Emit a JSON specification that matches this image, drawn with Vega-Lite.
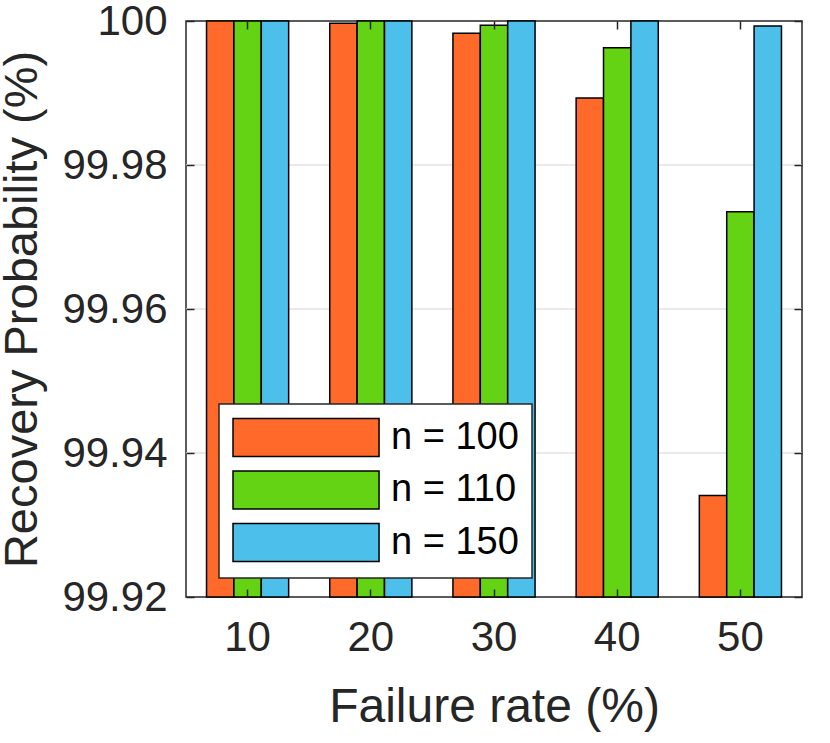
{
  "$schema": "https://vega.github.io/schema/vega-lite/v6.json",
  "width": 616,
  "height": 576,
  "autosize": "none",
  "padding": {"left": 186, "top": 21, "right": 28, "bottom": 146},
  "background": "white",
  "datasets": {
    "bars": [
      {"rate": 10, "n": "n = 100", "p": 100},
      {"rate": 10, "n": "n = 110", "p": 100},
      {"rate": 10, "n": "n = 150", "p": 100},
      {"rate": 20, "n": "n = 100", "p": 99.9997},
      {"rate": 20, "n": "n = 110", "p": 100},
      {"rate": 20, "n": "n = 150", "p": 100},
      {"rate": 30, "n": "n = 100", "p": 99.9983},
      {"rate": 30, "n": "n = 110", "p": 99.9994},
      {"rate": 30, "n": "n = 150", "p": 100},
      {"rate": 40, "n": "n = 100", "p": 99.9893},
      {"rate": 40, "n": "n = 110", "p": 99.9963},
      {"rate": 40, "n": "n = 150", "p": 100},
      {"rate": 50, "n": "n = 100", "p": 99.9341},
      {"rate": 50, "n": "n = 110", "p": 99.9735},
      {"rate": 50, "n": "n = 150", "p": 99.9993}
    ],
    "grid": [
      {"g": 99.94},
      {"g": 99.96},
      {"g": 99.98}
    ]
  },
  "layer": [
    {
      "data": {"name": "grid"},
      "mark": {"type": "rule", "color": "#e3e3e3", "strokeWidth": 1.5},
      "encoding": {
        "y": {"field": "g", "type": "quantitative", "axis": null,
          "scale": {"domain": [99.92, 100], "zero": false, "clamp": true, "nice": false}}
      }
    },
    {
      "data": {"name": "bars"},
      "mark": {"type": "bar", "stroke": "black", "strokeWidth": 1.5},
      "encoding": {
        "x": {
          "field": "rate", "type": "nominal",
          "scale": {"paddingInner": 0, "paddingOuter": 0},
          "axis": {"orient": "bottom", "title": "Failure rate (%)", "labelAngle": 0,
            "tickSize": -8, "labelPadding": 28, "titlePadding": 25, "titleFontSize": 48,
            "zindex": 1}
        },
        "xOffset": {
          "field": "n", "type": "nominal",
          "scale": {"paddingInner": 0, "paddingOuter": 0.75}
        },
        "y": {
          "field": "p", "type": "quantitative",
          "scale": {"domain": [99.92, 100], "zero": false, "clamp": true, "nice": false},
          "axis": {"orient": "left", "title": "Recovery Probability (%)",
            "values": [99.92, 99.94, 99.96, 99.98, 100],
            "labelExpr": "datum.value == 100 ? '100' : format(datum.value, '.2f')",
            "tickSize": -8, "labelPadding": 27, "titleFontSize": 47,
            "titleX": -140, "titleY": 288, "titleBaseline": "bottom", "titleAngle": -90,
            "titleAlign": "center",
            "zindex": 1}
        },
        "color": {
          "field": "n", "type": "nominal",
          "scale": {"domain": ["n = 100", "n = 110", "n = 150"],
            "range": ["#ff6a2a", "#63d313", "#4cbfeb"]},
          "legend": {"title": null, "orient": "none", "legendX": 33, "legendY": 383}
        }
      }
    },
    {
      "data": {"name": "bars"},
      "mark": {"type": "point", "opacity": 0},
      "encoding": {
        "x": {
          "field": "rate", "type": "nominal",
          "scale": {"paddingInner": 0, "paddingOuter": 0},
          "axis": {"orient": "top", "title": null, "labels": false, "tickSize": -8, "zindex": 1}
        },
        "y": {
          "field": "p", "type": "quantitative",
          "scale": {"domain": [99.92, 100], "zero": false, "clamp": true, "nice": false},
          "axis": {"orient": "right", "title": null, "labels": false,
            "values": [99.92, 99.94, 99.96, 99.98, 100], "tickSize": -8, "zindex": 1}
        }
      }
    }
  ],
  "resolve": {"axis": {"x": "independent", "y": "independent"}},
  "config": {
    "font": "Liberation Sans",
    "view": {"stroke": "#262626", "strokeWidth": 1.5},
    "axis": {
      "grid": false,
      "domain": false,
      "tickColor": "#262626",
      "tickWidth": 1.5,
      "labelColor": "#262626",
      "labelFontSize": 42,
      "labelFont": "Liberation Sans",
      "titleColor": "#262626",
      "titleFont": "Liberation Sans",
      "titleFontWeight": "normal"
    },
    "legend": {
      "symbolType": "M-1,-0.974H6.49V0.974H-1Z",
      "symbolSize": 1521,
      "symbolStrokeColor": "black",
      "symbolStrokeWidth": 1.5,
      "symbolOpacity": 1,
      "labelFontSize": 38,
      "labelColor": "black",
      "labelFont": "Liberation Sans",
      "labelOffset": 118,
      "labelLimit": 0,
      "rowPadding": 7.5,
      "padding": 13,
      "fillColor": "white",
      "strokeColor": "#262626",
      "strokeWidth": 1.5
    }
  }
}
